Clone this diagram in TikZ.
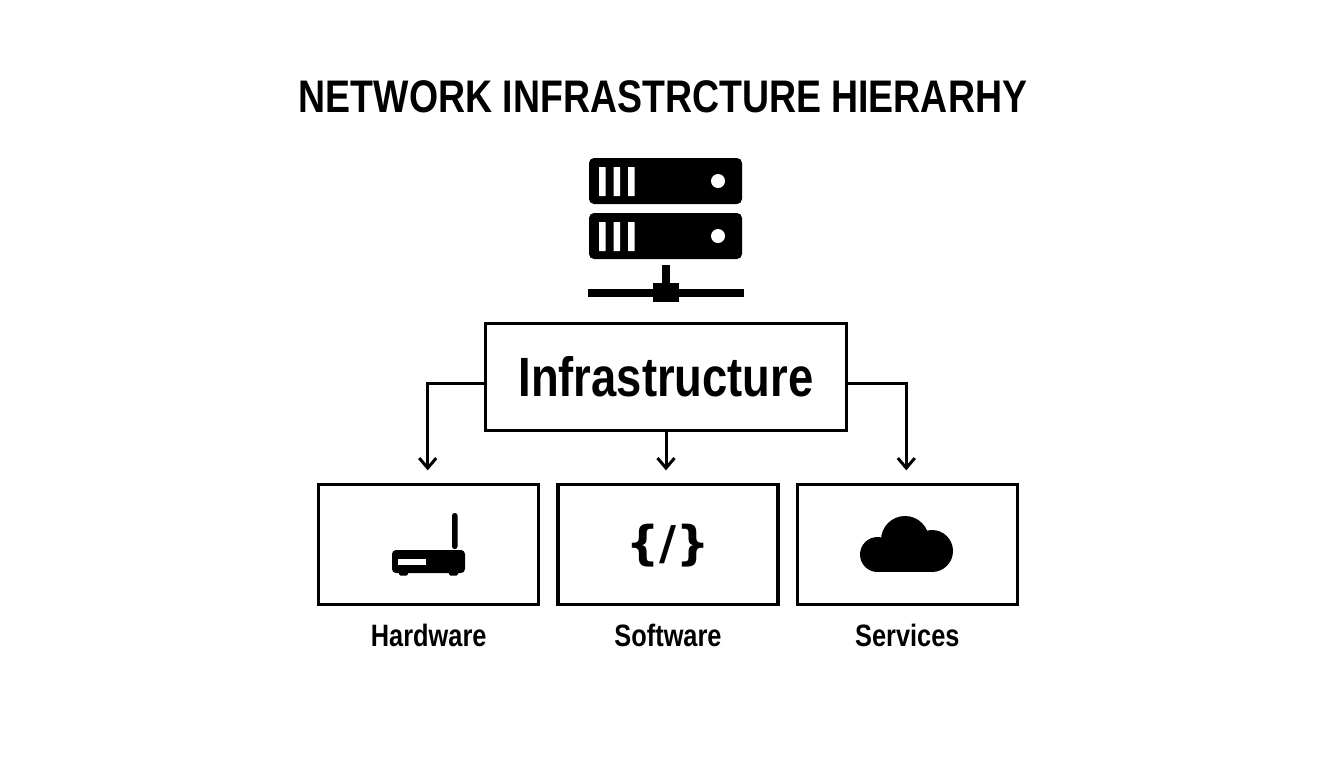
\documentclass[tikz,border=0pt]{standalone}
\usepackage{fontspec}
\setmainfont{Liberation Sans}[FakeStretch=0.82]
\newfontfamily\codefont{DejaVu Sans}
\usetikzlibrary{arrows.meta, positioning}

\begin{document}
\begin{tikzpicture}[
    x=0.02cm, y=-0.02cm,
    box/.style={draw, line width=1.9pt, rectangle, minimum width=4.4cm, minimum height=2.4cm, inner sep=0pt},
    mainbox/.style={draw, line width=1.9pt, rectangle, minimum width=7.22cm, minimum height=2.14cm, inner sep=0pt, font=\fontsize{31.5}{36}\selectfont\bfseries},
    label_text/.style={font=\fontsize{17.6}{20}\selectfont\bfseries, inner sep=0pt},
    arrow/.style={-{Straight Barb[length=2mm, width=3.4mm, line width=1.7pt]}, line width=1.7pt, shorten >=0.25cm},
    slot/.style={fill=white, rounded corners=0.2pt}
]
\useasboundingbox (0,0) rectangle (1344,768);

% Title
\node (title) [font=\fontsize{26}{30}\selectfont\bfseries, inner sep=0pt] at (663,97) {NETWORK INFRASTRCTURE HIERARHY};

% Main boxes
\node (infra) [mainbox] at (666,377) {Infrastructure};
\node (software) [box] at (668,544.5) {};
\node (hardware) [box, left=0.32cm of software] {};
\node (services) [box, right=0.32cm of software] {};

% Labels under the boxes
\node (hardware_label) [label_text, below=0.36cm of hardware] {Hardware};
\node (software_label) [label_text, below=0.36cm of software] {Software};
\node (services_label) [label_text, below=0.36cm of services] {Services};

% Connections
\draw [arrow] ([yshift=-0.12cm]infra.west) -| ([xshift=-0.02cm]hardware.north);
\draw [arrow] (infra.south) -- (infra.south |- software.north);
\draw [arrow] ([yshift=-0.12cm]infra.east) -| ([xshift=-0.02cm]services.north);

% Server icon
\foreach \y in {158,213} {
    \fill [rounded corners=0.1cm] (589,\y) rectangle (742,\y+46);
    \foreach \x in {599,613.5,628} {
        \fill [slot] (\x,\y+9) rectangle (\x+6.5,\y+38);
    }
    \fill [white] (718,\y+23) circle (7);
}
\fill (662,265) rectangle (670,285);
\fill (653,283) rectangle (679,302);
\fill (588,289) rectangle (744,297);

% Router icon
\fill [rounded corners=0.08cm] (392,550) rectangle (465,573);
\fill [white] (398,559) rectangle (426,565);
\fill [rounded corners=0.05cm] (452,513) rectangle (457.5,549);
\fill [rounded corners=0.03cm] (399,571) rectangle (408,575.5);
\fill [rounded corners=0.03cm] (449,571) rectangle (458,575.5);

% Code icon
\node (code_icon) [font=\codefont\fontsize{26.5}{30}\selectfont\bfseries, inner sep=0pt] at (668,546) {\{/\}};

% Cloud icon
\fill (877.5,554.5) circle (17.5);
\fill (905,540) circle (24);
\fill (932,551) circle (21);
\fill (877,545) rectangle (932,572);

\end{tikzpicture}
\end{document}
